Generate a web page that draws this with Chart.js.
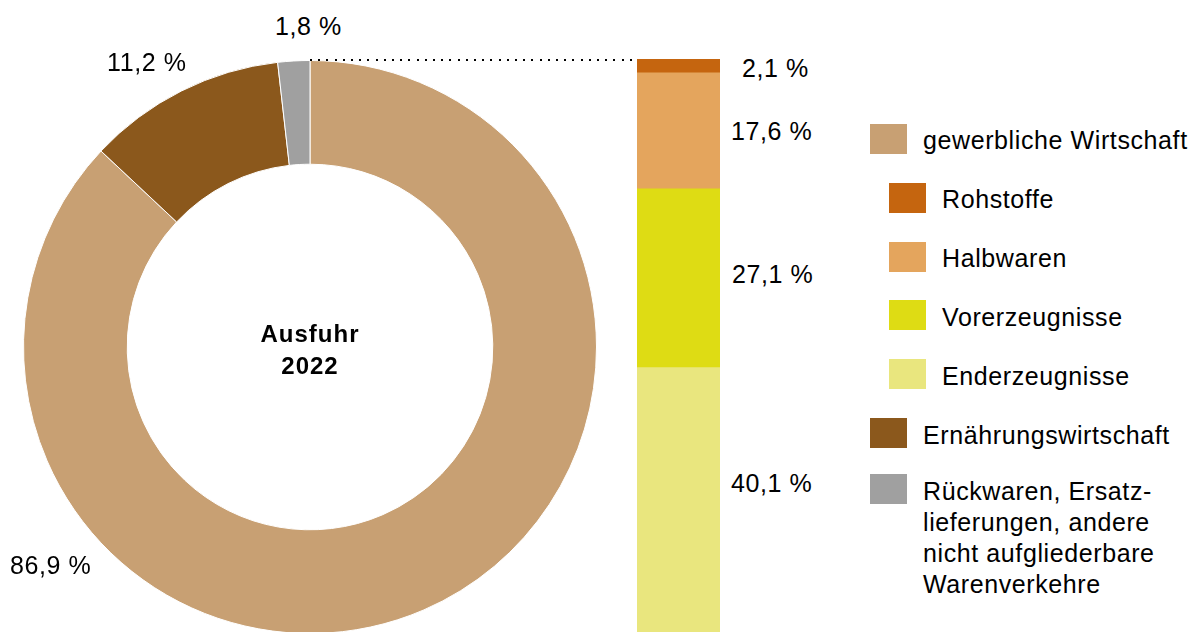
<!DOCTYPE html>
<html lang="de">
<head>
<meta charset="utf-8">
<title>Ausfuhr 2022</title>
<script src="https://cdn.jsdelivr.net/npm/chart.js@4/dist/chart.umd.min.js"></script>
<style>
  html, body { margin: 0; padding: 0; background: #fff; }
  body { width: 1199px; height: 632px; position: relative; overflow: hidden;
         font-family: "Liberation Sans", Arial, sans-serif; color: #000; }
  canvas { position: absolute; }
  #ring { left: 23px; top: 60px; }
  #stack { left: 637px; top: 59px; }
  .txt { position: absolute; font-size: 25px; line-height: 31px; letter-spacing: 0.6px; white-space: nowrap; }
  .sw { position: absolute; width: 37px; height: 30px; }
  #center { position: absolute; left: 210px; width: 200px; top: 318px; text-align: center;
            font-weight: bold; font-size: 24px; line-height: 32px; letter-spacing: 1px; }
  #dots { position: absolute; left: 310px; top: 59px; width: 328px; height: 2px;
          background: repeating-linear-gradient(to right, #000 0 2px, transparent 2px 8.2px); }
</style>
</head>
<body>
<canvas id="ring" width="574" height="574"></canvas>
<canvas id="stack" width="83" height="573"></canvas>
<div id="dots"></div>
<div id="center">Ausfuhr<br>2022</div>
<div id="labels"></div>
<div id="legend"></div>

<script>
// ring: main groups of exports
const ringLabels = ['gewerbliche Wirtschaft', 'Ernährungswirtschaft', 'Rückwaren, Ersatz-\nlieferungen, andere\nnicht aufgliederbare\nWarenverkehre'];
const ringValues = [86.9, 11.2, 1.8];
const ringColors = ['#c8a073', '#8b581c', '#a0a0a0'];

// stacked bar: split of gewerbliche Wirtschaft (bottom to top)
const barLabels = ['Enderzeugnisse', 'Vorerzeugnisse', 'Halbwaren', 'Rohstoffe'];
const barValues = [40.1, 27.1, 17.6, 2.1];
const barColors = ['#e9e67e', '#dedc14', '#e4a55d', '#c5650f'];

const fmt = v => v.toFixed(1).replace('.', ',') + ' %';

new Chart(document.getElementById('ring'), {
  type: 'doughnut',
  data: {
    labels: ringLabels,
    datasets: [{ data: ringValues, backgroundColor: ringColors, borderColor: '#fff', borderWidth: 1, hoverOffset: 0 }]
  },
  options: {
    responsive: false,
    animation: false,
    events: [],
    cutout: '63.8%',
    layout: { padding: 0 },
    plugins: { legend: { display: false }, tooltip: { enabled: false } }
  }
});

const barTotal = barValues.reduce((a, b) => a + b, 0);
new Chart(document.getElementById('stack'), {
  type: 'bar',
  data: {
    labels: [''],
    datasets: barLabels.map((l, i) => ({
      label: l, data: [barValues[i]], backgroundColor: barColors[i],
      barPercentage: 1, categoryPercentage: 1, borderWidth: 0
    }))
  },
  options: {
    responsive: false,
    animation: false,
    events: [],
    layout: { padding: 0 },
    scales: {
      x: { stacked: true, display: false },
      y: { stacked: true, display: false, min: 0, max: barTotal }
    },
    plugins: { legend: { display: false }, tooltip: { enabled: false } }
  }
});

// percentage labels (baseline y, left x)
const labelSpots = [
  [ringValues[2], 275, 35], [ringValues[1], 107, 71], [ringValues[0], 10, 574],
  [barValues[3], 742, 77], [barValues[2], 731, 140], [barValues[1], 732, 283], [barValues[0], 731, 492]
];
document.getElementById('labels').innerHTML = labelSpots.map(([v, x, y]) =>
  `<div class="txt" style="left:${x}px;top:${y - 24}px">${fmt(v)}</div>`).join('');

// legend
const legendRows = [
  { text: ringLabels[0], color: ringColors[0], sx: 870, sy: 124, tx: 923, base: 149 },
  { text: barLabels[3], color: barColors[3], sx: 889, sy: 183, tx: 942, base: 208 },
  { text: barLabels[2], color: barColors[2], sx: 889, sy: 242, tx: 942, base: 267 },
  { text: barLabels[1], color: barColors[1], sx: 889, sy: 300, tx: 942, base: 326 },
  { text: barLabels[0], color: barColors[0], sx: 889, sy: 359, tx: 942, base: 385 },
  { text: ringLabels[1], color: ringColors[1], sx: 870, sy: 418, tx: 923, base: 444 },
  { text: ringLabels[2], color: ringColors[2], sx: 870, sy: 474, tx: 923, base: 500 }
];
document.getElementById('legend').innerHTML = legendRows.map(r =>
  `<div class="sw" style="left:${r.sx}px;top:${r.sy}px;background:${r.color}"></div>` +
  `<div class="txt" style="left:${r.tx}px;top:${r.base - 24}px">${r.text.replace(/\n/g, '<br>')}</div>`).join('');
</script>
</body>
</html>
